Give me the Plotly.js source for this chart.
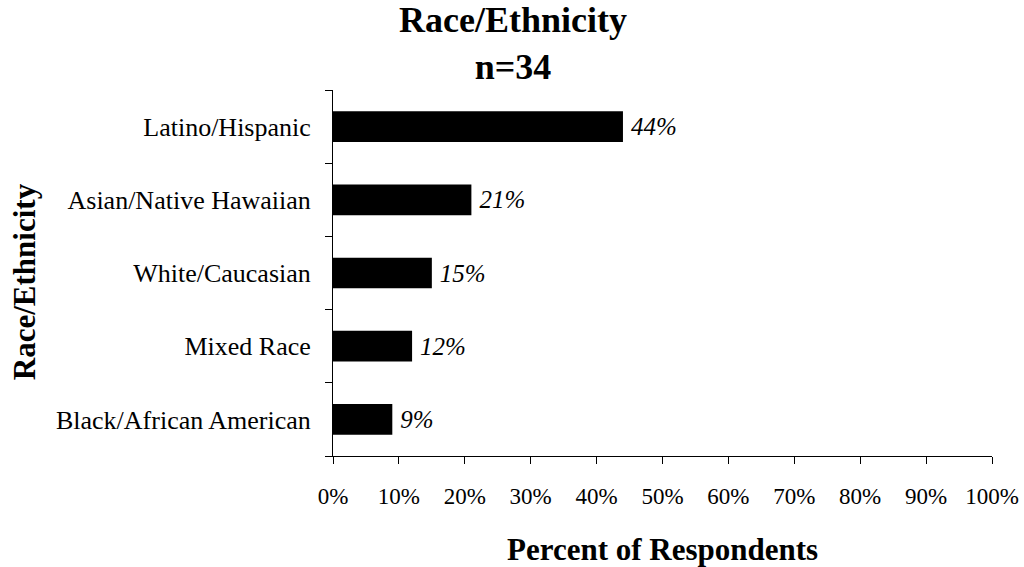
<!DOCTYPE html>
<html>
<head>
<meta charset="utf-8">
<script src="https://cdn.plot.ly/plotly-3.0.1.min.js"></script>
<style>html,body{margin:0;padding:0;background:#fff;}#chart{width:1024px;height:567px;}</style>
</head>
<body>
<div id="chart"></div>
<script>
const categories = ["Black/African American", "Mixed Race", "White/Caucasian", "Asian/Native Hawaiian", "Latino/Hispanic"];
const percents = [9, 12, 15, 21, 44];
const xTickValues = [0, 10, 20, 30, 40, 50, 60, 70, 80, 90, 100];
const titleLines = ["Race/Ethnicity", "n=34"];
const xTitle = "Percent of Respondents";
const yTitle = "Race/Ethnicity";

const FONT = "'Liberation Serif', 'Times New Roman', serif";

const trace = {
  type: 'bar',
  orientation: 'h',
  x: percents,
  y: categories,
  marker: {color: '#000000', line: {width: 0}},
  text: percents.map(v => '\u2009' + v + '%'),
  texttemplate: '%{text}',
  textposition: 'outside',
  textfont: {family: FONT, size: 25, color: '#000', style: 'italic'},
  cliponaxis: false,
  hoverinfo: 'none'
};

const layout = {
  width: 1024,
  height: 567,
  margin: {l: 333, r: 32, t: 90, b: 111},
  paper_bgcolor: '#fff',
  plot_bgcolor: '#fff',
  showlegend: false,
  bargap: 0.58,
  font: {family: FONT, color: '#000'},
  xaxis: {
    range: [0, 100],
    tickvals: xTickValues,
    ticktext: xTickValues.map(v => v + '%'),
    ticks: 'outside',
    ticklen: 7,
    tickwidth: 1,
    tickcolor: '#000',
    showline: true,
    linecolor: '#000',
    linewidth: 1,
    showgrid: false,
    zeroline: false,
    ticklabelstandoff: 12,
    tickfont: {family: FONT, size: 23, color: '#000'},
    fixedrange: true
  },
  yaxis: {
    type: 'category',
    categoryorder: 'array',
    categoryarray: categories,
    ticks: 'outside',
    tickson: 'boundaries',
    ticklen: 7,
    tickwidth: 1,
    tickcolor: '#000',
    showline: true,
    linecolor: '#000',
    linewidth: 1,
    showgrid: false,
    zeroline: false,
    ticklabelstandoff: 16,
    tickfont: {family: FONT, size: 26, color: '#000'},
    fixedrange: true
  },
  annotations: [
    {
      text: titleLines.join('<br>'), xref: 'paper', yref: 'paper', x: 0.5, y: 1,
      xshift: -150, xanchor: 'center', yanchor: 'bottom', yshift: 1, showarrow: false,
      font: {family: FONT, size: 36, color: '#000', weight: 'bold'}
    },
    {
      text: xTitle, xref: 'paper', yref: 'paper', x: 0.5, y: 0,
      xanchor: 'center', yanchor: 'middle', yshift: -93, showarrow: false,
      font: {family: FONT, size: 31, color: '#000', weight: 'bold'}
    },
    {
      text: yTitle, xref: 'paper', yref: 'paper', x: 0, y: 0.475,
      xanchor: 'center', yanchor: 'middle', xshift: -309, textangle: -90, showarrow: false,
      font: {family: FONT, size: 31, color: '#000', weight: 'bold'}
    }
  ]
};

Plotly.newPlot('chart', [trace], layout, {staticPlot: true, displayModeBar: false});
</script>
</body>
</html>
